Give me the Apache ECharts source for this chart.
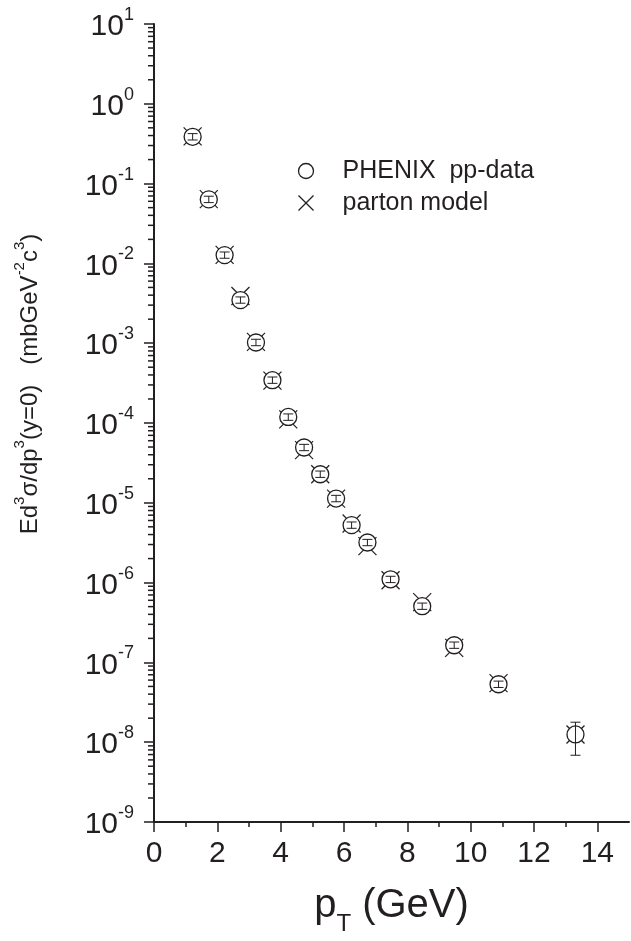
<!DOCTYPE html>
<html>
<head>
<meta charset="utf-8">
<script src="https://cdn.jsdelivr.net/npm/echarts@6/dist/echarts.min.js"></script>
<style>
html,body{margin:0;padding:0;background:#fff;}
#chart{width:631px;height:941px;}
</style>
</head>
<body>
<div id="chart"></div>
<script>
// ---- data ----
var pT        = [1.22, 1.73, 2.23, 2.73, 3.22, 3.74, 4.24, 4.74, 5.25, 5.75, 6.24, 6.74, 7.47, 8.47, 9.48, 10.88, 13.31];
var phenix    = [0.386, 0.0634, 0.0127, 0.00347, 0.00102, 3.44e-4, 1.19e-4, 4.93e-5, 2.28e-5, 1.13e-5, 5.25e-6, 3.18e-6, 1.10e-6, 5.06e-7, 1.64e-7, 5.32e-8, 1.25e-8];
var phenixLo  = [0.352, 0.0578, 0.0116, 0.00317, 0.000930, 3.14e-4, 1.08e-4, 4.50e-5, 2.08e-5, 1.03e-5, 4.79e-6, 2.90e-6, 1.00e-6, 4.62e-7, 1.50e-7, 4.85e-8, 6.86e-9];
var phenixHi  = [0.423, 0.0695, 0.0139, 0.00380, 0.00112, 3.77e-4, 1.30e-4, 5.40e-5, 2.50e-5, 1.24e-5, 5.75e-6, 3.48e-6, 1.20e-6, 5.54e-7, 1.80e-7, 5.83e-8, 1.78e-8];
var partonX   = [1.22, 1.73, 2.23, 2.73, 3.22, 3.74, 4.24, 4.74, 5.25, 5.75, 6.24, 6.74, 7.47, 8.47, 9.48, 10.88, 13.31];
var parton    = [0.39, 0.064, 0.0128, 0.0039, 0.00104, 3.40e-4, 1.11e-4, 4.57e-5, 2.28e-5, 1.13e-5, 5.5e-6, 2.86e-6, 1.07e-6, 5.7e-7, 1.52e-7, 5.5e-8, 1.25e-8];
var xTickValues = [0, 2, 4, 6, 8, 10, 12, 14];
var yDecades = [1e-9, 1e-8, 1e-7, 1e-6, 1e-5, 1e-4, 1e-3, 1e-2, 1e-1, 1e0, 1e1];
var minorMultipliers = [2, 3, 4, 5, 6, 7, 8, 9];
var seriesNames = ['PHENIX  pp-data', 'parton model'];

var INK = '#231f20';
var FONT = '"Liberation Sans", Arial, Helvetica, sans-serif';

var minorTickValues = [];
for (var i = 0; i < yDecades.length - 1; i++) {
  for (var j = 0; j < minorMultipliers.length; j++) minorTickValues.push([0, minorMultipliers[j] * yDecades[i]]);
}

var chart = echarts.init(document.getElementById('chart'), null, {renderer: 'canvas'});

var option = {
  backgroundColor: '#fff',
  animation: false,
  textStyle: {fontFamily: FONT, color: INK},
  grid: {left: 154, right: 2, top: 24, bottom: 119, containLabel: false},
  legend: {
    orient: 'vertical',
    left: 291, top: 153,
    itemWidth: 15, itemHeight: 15, itemGap: 6,
    textStyle: {fontSize: 25, lineHeight: 26, color: INK, fontFamily: FONT, padding: [0, 0, 0, 24]},
    data: [
      {name: seriesNames[0], icon: 'circle', itemStyle: {color: '#fff', borderColor: INK, borderWidth: 1.3}},
      {name: seriesNames[1], icon: 'path://M0,0L10,10M10,0L0,10', itemStyle: {color: 'none', borderColor: INK, borderWidth: 1.3}}
    ]
  },
  xAxis: [{
    type: 'value', min: 0, max: 15, interval: 2,
    name: '{p|p}{t|T}{p| (GeV)}',
    nameLocation: 'middle', nameGap: 64,
    nameTextStyle: {rich: {
      p: {fontSize: 40, fontFamily: FONT, color: INK, lineHeight: 50, verticalAlign: 'top'},
      t: {fontSize: 24, fontFamily: FONT, color: INK, lineHeight: 50, verticalAlign: 'bottom'}
    }},
    axisLine: {show: true, lineStyle: {color: INK, width: 2}},
    axisTick: {show: true, inside: false, length: 10, lineStyle: {color: INK, width: 1.5}, customValues: xTickValues},
    minorTick: {show: true, splitNumber: 2, length: 5, lineStyle: {color: INK, width: 1.5}},
    axisLabel: {fontSize: 30, color: INK, margin: 17, fontFamily: FONT, customValues: xTickValues},
    splitLine: {show: false}
  }],
  yAxis: [{
    type: 'log', logBase: 10, min: 1e-9, max: 10, interval: 1,
    name: '{n|Ed}{s|3}{n|σ/dp}{s|3}{n|(y=0)   (mbGeV}{s|-2}{n|c}{s|3}{n|)}',
    nameLocation: 'middle', nameRotate: 90, nameGap: 112,
    nameTextStyle: {padding: [0, 0, 0, 78], rich: {
      n: {fontSize: 24, fontFamily: FONT, color: INK, lineHeight: 30, verticalAlign: 'bottom'},
      s: {fontSize: 15, fontFamily: FONT, color: INK, lineHeight: 17, verticalAlign: 'top'}
    }},
    axisLine: {show: true, lineStyle: {color: INK, width: 2}},
    axisTick: {show: true, inside: false, length: 10, lineStyle: {color: INK, width: 1.5}},
    minorTick: {show: false},
    splitLine: {show: false},
    axisLabel: {
      margin: 20, color: INK,
      formatter: function (v) {
        var e = Math.round(Math.log(v) / Math.LN10);
        return '{b|10}{s|' + e + '}';
      },
      rich: {
        b: {fontSize: 30, fontFamily: FONT, color: INK, lineHeight: 36, verticalAlign: 'bottom'},
        s: {fontSize: 18, fontFamily: FONT, color: INK, lineHeight: 19, verticalAlign: 'top'}
      }
    }
  }],
  series: [
    {
      name: 'yMinorTicks', type: 'custom', silent: true, clip: false, z: 1,
      data: minorTickValues,
      renderItem: function (params, api) {
        var p = api.coord([api.value(0), api.value(1)]);
        return {type: 'line', shape: {x1: p[0] - 6, y1: p[1], x2: p[0], y2: p[1]}, style: {stroke: INK, lineWidth: 1.5}};
      }
    },
    {
      name: seriesNames[1], type: 'custom', z: 2,
      data: partonX.map(function (x, k) { return [x, parton[k]]; }),
      renderItem: function (params, api) {
        var p = api.coord([api.value(0), api.value(1)]);
        var s = 9;
        return {type: 'group', children: [
          {type: 'line', shape: {x1: p[0] - s, y1: p[1] - s, x2: p[0] + s, y2: p[1] + s}, style: {stroke: INK, lineWidth: 1.2}},
          {type: 'line', shape: {x1: p[0] - s, y1: p[1] + s, x2: p[0] + s, y2: p[1] - s}, style: {stroke: INK, lineWidth: 1.2}}
        ]};
      }
    },
    {
      name: seriesNames[0], type: 'scatter', z: 3,
      symbol: 'circle', symbolSize: 17,
      itemStyle: {color: '#fff', borderColor: INK, borderWidth: 1.3, opacity: 1},
      data: pT.map(function (x, k) { return [x, phenix[k]]; })
    },
    {
      name: 'phenixErr', type: 'custom', z: 4, silent: true,
      data: pT.map(function (x, k) { return [x, phenixLo[k], phenixHi[k]]; }),
      renderItem: function (params, api) {
        var lo = api.coord([api.value(0), api.value(1)]);
        var hi = api.coord([api.value(0), api.value(2)]);
        var w = 5;
        return {type: 'group', children: [
          {type: 'line', shape: {x1: lo[0], y1: lo[1], x2: hi[0], y2: hi[1]}, style: {stroke: INK, lineWidth: 1}},
          {type: 'line', shape: {x1: lo[0] - w, y1: lo[1], x2: lo[0] + w, y2: lo[1]}, style: {stroke: INK, lineWidth: 1}},
          {type: 'line', shape: {x1: hi[0] - w, y1: hi[1], x2: hi[0] + w, y2: hi[1]}, style: {stroke: INK, lineWidth: 1}}
        ]};
      }
    }
  ]
};
chart.setOption(option);
</script>
</body>
</html>
